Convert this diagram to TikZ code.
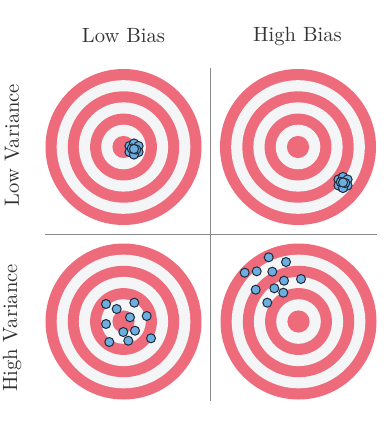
\documentclass[tikz,border=0pt]{standalone}
\definecolor{ringred}{HTML}{EE6B7B}
\definecolor{ringwhite}{HTML}{F4F5F7}
\definecolor{dotblue}{HTML}{6BAEDF}
\definecolor{dotedge}{HTML}{1E2B3A}
\definecolor{txt}{HTML}{333333}
\definecolor{divider}{HTML}{8A8A8A}
\tikzset{
  lbl/.style={text=txt, font=\fontsize{10.3}{12}\selectfont, inner sep=0pt},
  shot/.style={fill=dotblue, draw=dotedge, line width=0.5pt},
  divline/.style={draw=divider, line width=0.65pt},
}
\newcommand{\mytarget}[2]{%
  \foreach \r [count=\k] in {78,66.8,55.7,44.6,33.4,22.3,11.1}{%
    \pgfmathparse{mod(\k,2)==1 ? "ringred" : "ringwhite"}%
    \fill[\pgfmathresult] (#1,#2) circle[radius=\r];
  }%
}
\begin{document}
\begin{tikzpicture}[x=0.5pt,y=-0.5pt]
\fill[white] (0,0) rectangle (384,422);
\useasboundingbox (0,0) rectangle (384,422);
% labels
\node[lbl] (lb) at (123.5,36) {Low Bias};
\node[lbl] (hb) at (297.5,36) {High Bias};
\node[lbl, rotate=90] (lv) at (12,145) {Low Variance};
\node[lbl, rotate=90] (hv) at (12,328) {High Variance};
% targets
\mytarget{123.5}{147}
\mytarget{298}{147}
\mytarget{123.5}{321.5}
\mytarget{298.5}{321.5}
% dividers
\coordinate (vt) at (210.7,68);
\coordinate (vb) at (210.7,401);
\coordinate (hl) at (45,234.3);
\coordinate (hr) at (377,234.3);
\draw[divline] (vt) -- (vb);
\draw[divline] (hl) -- (hr);
% low bias low variance cluster
\foreach \dx/\dy in {-4.5/-3,0/-5.5,4.5/-3,-4.5/3,4.5/3,0/5.5,-2.2/-0.5,2.2/0.5,0/0}{
  \draw[shot] (134+\dx,149+\dy) circle[radius=4.6];
}
% high bias low variance cluster
\foreach \dx/\dy in {-4.5/-3,0/-5.5,4.5/-3,-4.5/3,4.5/3,0/5.5,-2.2/-0.5,2.2/0.5,0/0}{
  \draw[shot] (343+\dx,182.5+\dy) circle[radius=4.6];
}
% low bias high variance
\foreach \x/\y in {106/304,116.7/309,134.3/302.7,130/317.3,146.7/316,106/324,123.3/332,135/330.7,151/338.3,109.3/342,128.3/340.7}{
  \draw[shot] (\x,\y) circle[radius=4.5];
}
% high bias high variance
\foreach \x/\y in {268.7/257.3,286/262,244.7/272.7,256.7/271.3,272.3/271.7,284/280.7,301/279,255.7/289.7,274.3/288.3,283.3/292.7,267.3/302.7}{
  \draw[shot] (\x,\y) circle[radius=4.5];
}
\end{tikzpicture}
\end{document}
